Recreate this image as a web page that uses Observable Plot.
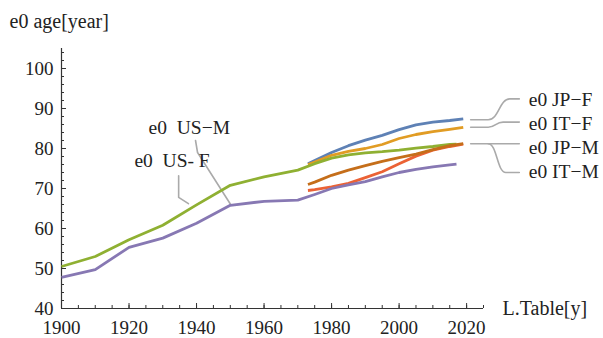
<!DOCTYPE html>
<html>
<head>
<meta charset="utf-8">
<script src="https://cdn.jsdelivr.net/npm/d3@7"></script>
<script src="https://cdn.jsdelivr.net/npm/@observablehq/plot@0.6"></script>
<style>
  html, body { margin: 0; padding: 0; background: #fff; }
</style>
</head>
<body>
<div id="chart"></div>
<script>
// ---- data ----
const usYears = [1900, 1910, 1920, 1930, 1940, 1950, 1960, 1970, 1975, 1980, 1985, 1990, 1995, 2000, 2005, 2010, 2015, 2017];
const usF = [50.5, 53.0, 57.2, 60.8, 65.9, 70.8, 72.9, 74.6, 76.2, 77.6, 78.4, 78.9, 79.2, 79.6, 80.1, 80.5, 81.0, 81.1];
const usM = [47.8, 49.7, 55.3, 57.6, 61.3, 65.8, 66.8, 67.1, 68.5, 70.0, 70.9, 71.7, 72.9, 74.0, 74.8, 75.4, 75.9, 76.1];

const jpitYears = [1973, 1975, 1980, 1985, 1990, 1995, 2000, 2005, 2010, 2015, 2019];
const jpF = [76.2, 77.0, 79.0, 80.7, 82.1, 83.3, 84.7, 85.9, 86.6, 87.0, 87.4];
const itF = [76.0, 76.6, 78.3, 79.3, 80.0, 81.0, 82.5, 83.5, 84.2, 84.8, 85.3];
const itM = [69.5, 69.7, 70.4, 71.3, 72.7, 74.2, 76.2, 78.1, 79.6, 80.5, 81.1];
const jpM = [71.0, 71.6, 73.3, 74.6, 75.7, 76.8, 77.7, 78.6, 79.7, 80.7, 81.2];

// drawing order follows the colour index (later ones on top)
const seriesNames = ["JP-F", "IT-F", "US-F", "IT-M", "US-M", "JP-M"];
const seriesColors = ["#5E81B5", "#E19C24", "#8FB032", "#EB6235", "#8778B3", "#C56E1A"];

// tick values
const xMajorTicks = [1900, 1920, 1940, 1960, 1980, 2000, 2020];
const xMinorTicks = d3.range(1900, 2026, 5);
const yMajorTicks = [40, 50, 60, 70, 80, 90, 100];
const yMinorTicks = d3.range(40, 105, 2);

// callout labels (data coordinates)
const calloutText = ["e0  US\u2212M", "e0  US- F", "e0 JP\u2212F", "e0 IT\u2212F", "e0 JP\u2212M", "e0 IT\u2212M"];
const calloutYear = [1925.8, 1921.6, 2038.4, 2038.4, 2038.4, 2038.4];
const calloutValue = [85.3, 77.0, 92.2, 86.2, 80.3, 74.3];

// callout leader lines (data coordinates)
const leaderNames = ["US-M", "US-F", "JP-F", "IT-F", "JP-M", "IT-M"];
const leaderYears = [
  [1939.7, 1940.3, 1950.1],
  [1934.7, 1934.7, 1937.6],
  [2021.2, 2026.4, 2032.8, 2035.6],
  [2021.2, 2026.4, 2030.8, 2035.6],
  [2021.2, 2035.6],
  [2026.4, 2031.6, 2035.6]
];
const leaderValues = [
  [82.0, 79.0, 66.0],
  [73.2, 67.8, 66.2],
  [87.2, 87.2, 92.4, 92.4],
  [85.3, 85.3, 86.6, 86.6],
  [81.2, 81.2],
  [81.2, 74.0, 74.0]
];

// ---- tables built from the arrays ----
const seriesValues = {"US-F": usF, "US-M": usM, "JP-F": jpF, "IT-F": itF, "JP-M": jpM, "IT-M": itM};
const seriesYears = {"US-F": usYears, "US-M": usYears, "JP-F": jpitYears, "IT-F": jpitYears, "JP-M": jpitYears, "IT-M": jpitYears};
const rows = seriesNames.flatMap(name => seriesYears[name].map((yr, i) => ({name, year: yr, e0: seriesValues[name][i]})));
const callouts = calloutText.map((t, i) => ({text: t, year: calloutYear[i], value: calloutValue[i]}));
const leaders = leaderNames.flatMap((n, k) => leaderYears[k].map((yr, i) => ({id: n, year: yr, value: leaderValues[k][i], right: k >= 2})));

const font = "Liberation Serif";
const ink = "#222";

const chart = Plot.plot({
  width: 603,
  height: 338,
  marginLeft: 61,
  marginRight: 120,
  marginTop: 48,
  marginBottom: 30,
  style: {fontFamily: font, fontSize: "19px", color: ink, background: "#fff", overflow: "visible"},
  x: {domain: [1900, 2025]},
  y: {domain: [40, 105]},
  color: {domain: seriesNames, range: seriesColors},
  marks: [
    Plot.ruleY([40], {stroke: "#333", strokeWidth: 1.2}),
    Plot.ruleX([1900], {stroke: "#333", strokeWidth: 1.2}),
    Plot.axisX(xMinorTicks, {tickSize: -3, text: null, label: null, stroke: "#333"}),
    Plot.axisX(xMajorTicks, {tickSize: -5, tickPadding: 17, label: null, stroke: "#333", tickFormat: d => String(d), fontSize: 19, fill: ink}),
    Plot.axisY(yMinorTicks, {tickSize: -3, text: null, label: null, stroke: "#333"}),
    Plot.axisY(yMajorTicks, {tickSize: -5, tickPadding: 13, label: null, stroke: "#333", tickFormat: d => String(d), fontSize: 19, fill: ink}),
    // leader lines
    Plot.line(leaders.filter(d => !d.right), {x: "year", y: "value", z: "id", stroke: "#aaa", strokeWidth: 1.6}),
    Plot.line(leaders.filter(d => d.right), {x: "year", y: "value", z: "id", stroke: "#aaa", strokeWidth: 1.6, curve: "bump-x"}),
    // series
    Plot.line(rows, {x: "year", y: "e0", z: "name", stroke: "name", strokeWidth: 2.8, strokeLinejoin: "round", strokeLinecap: "butt"}),
    // callout labels
    Plot.text(callouts, {x: "year", y: "value", text: "text", textAnchor: "start", lineAnchor: "middle", fontSize: 19.5, fill: ink, fontFamily: font}),
    // axis titles
    Plot.text(["e0 age[year]"], {frameAnchor: "top-left", dx: -52, dy: -27, textAnchor: "start", lineAnchor: "middle", fontSize: 20, fill: ink}),
    Plot.text(["L.Table[y]"], {frameAnchor: "bottom-right", dx: 19, dy: 0, textAnchor: "start", lineAnchor: "middle", fontSize: 20, fill: ink})
  ]
});
document.getElementById("chart").appendChild(chart);
</script>
</body>
</html>
